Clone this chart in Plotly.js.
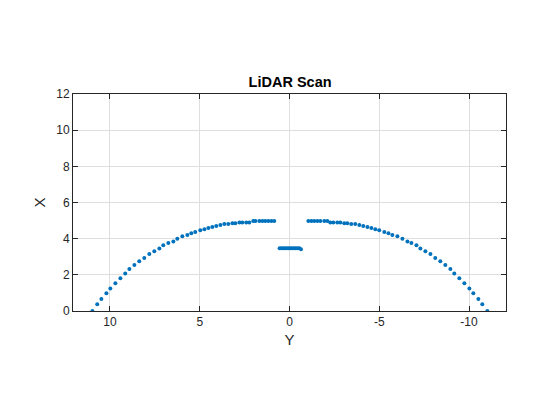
<!DOCTYPE html>
<html>
<head>
<meta charset="utf-8">
<script src="https://cdn.plot.ly/plotly-3.0.1.min.js"></script>
<style>html,body{margin:0;padding:0;background:#fff;}#chart{width:560px;height:420px;}</style>
</head>
<body>
<div id="chart"></div>
<script>
// Lateral position (Y, metres) of each scan return
const scanY = [
  10.98, 10.71, 10.48, 10.20, 9.98, 9.70, 9.42, 9.15, 8.92, 8.64,
  8.37, 8.09, 7.81, 7.53, 7.25, 7.03, 6.75, 6.47, 6.25, 5.97,
  5.69, 5.47, 5.25, 4.97, 4.74, 4.52, 4.30, 4.08, 3.85, 3.63,
  3.41, 3.18, 3.02, 2.79, 2.63, 2.41, 2.24, 2.02, 1.90, 1.68,
  1.51, 1.35, 1.18, 1.01, 0.85,
  0.55, 0.45, 0.35, 0.25, 0.15, 0.05, -0.05, -0.15, -0.25, -0.35, -0.45, -0.55, -0.64,
  -1.05, -1.22, -1.38, -1.55, -1.72, -1.94, -2.11, -2.27, -2.44, -2.66,
  -2.83, -3.05, -3.22, -3.44, -3.66, -3.89, -4.11, -4.34, -4.56, -4.78,
  -5.00, -5.28, -5.51, -5.73, -6.01, -6.29, -6.57, -6.79, -7.07, -7.29,
  -7.57, -7.85, -8.12, -8.40, -8.68, -8.96, -9.18, -9.46, -9.74, -10.02,
  -10.24, -10.52, -10.74, -11.02
];
// Forward position (X, metres) of each scan return
const scanX = [
  0.00, 0.37, 0.66, 0.98, 1.25, 1.53, 1.81, 2.08, 2.32, 2.54,
  2.75, 2.93, 3.15, 3.30, 3.46, 3.63, 3.76, 3.85, 4.00, 4.13,
  4.20, 4.30, 4.37, 4.46, 4.52, 4.59, 4.65, 4.70, 4.76, 4.81,
  4.81, 4.85, 4.85, 4.90, 4.90, 4.90, 4.90, 4.98, 4.98, 4.98,
  4.98, 4.98, 4.98, 4.98, 4.98,
  3.47, 3.47, 3.47, 3.47, 3.47, 3.47, 3.47, 3.47, 3.47, 3.47, 3.47, 3.47, 3.41,
  4.98, 4.98, 4.98, 4.98, 4.98, 4.98, 4.98, 4.90, 4.90, 4.90,
  4.90, 4.85, 4.85, 4.81, 4.81, 4.76, 4.70, 4.65, 4.59, 4.52,
  4.46, 4.37, 4.30, 4.20, 4.13, 4.00, 3.85, 3.76, 3.63, 3.46,
  3.30, 3.15, 2.93, 2.75, 2.54, 2.32, 2.08, 1.81, 1.53, 1.25,
  0.98, 0.66, 0.37, 0.00
];
const xTicks = [10, 5, 0, -5, -10];
const yTicks = [0, 2, 4, 6, 8, 10, 12];

const axisCommon = {
  showline: true, linecolor: '#262626', linewidth: 1, mirror: 'ticks',
  ticks: 'inside', ticklen: 5, tickcolor: '#262626', tickwidth: 1,
  showgrid: true, gridcolor: '#dfdfdf', gridwidth: 1, zeroline: false,
  tickfont: {family: 'Liberation Sans, Arial, sans-serif', size: 12, color: '#262626'}
};

Plotly.newPlot('chart', [{
  x: scanY, y: scanX, type: 'scatter', mode: 'markers',
  marker: {color: '#0072BD', size: 4},
  hoverinfo: 'skip'
}], {
  width: 560, height: 420,
  paper_bgcolor: '#ffffff', plot_bgcolor: '#ffffff',
  margin: {l: 73, r: 54, t: 94, b: 109},
  showlegend: false,
  title: {
    text: '<b>LiDAR Scan</b>',
    font: {family: 'Liberation Sans, Arial, sans-serif', size: 14.5, color: '#000000'},
    x: 0.518, xanchor: 'center', xref: 'container',
    y: 1 - 82/420, yanchor: 'middle', yref: 'container'
  },
  xaxis: Object.assign({}, axisCommon, {
    range: [12.06, -12.06], tickvals: xTicks, ticktext: xTicks.map(String),
    title: {text: 'Y', standoff: 6, font: {family: 'Liberation Sans, Arial, sans-serif', size: 15, color: '#262626'}}
  }),
  yaxis: Object.assign({}, axisCommon, {
    range: [0, 12], tickvals: yTicks, ticktext: yTicks.map(String),
    title: {text: 'X', standoff: 6, font: {family: 'Liberation Sans, Arial, sans-serif', size: 15, color: '#262626'}}
  })
}, {staticPlot: true});
</script>
</body>
</html>
